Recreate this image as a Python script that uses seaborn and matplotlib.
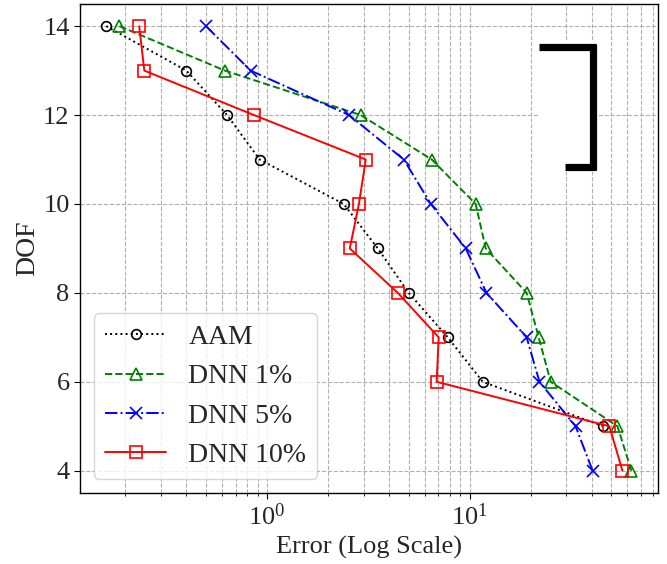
import pandas as pd
import matplotlib
matplotlib.use("Agg")
import matplotlib.pyplot as plt
from matplotlib.patches import Rectangle
import seaborn as sns

# DOF levels and error per method
dof = [14, 13, 12, 11, 10, 9, 8, 7, 6, 5, 4]
aam = [0.161, 0.40, 0.635, 0.92, 2.39, 3.52, 5.0, 7.8, 11.6, 45.7]
dnn1 = [0.187, 0.62, 2.90, 6.5, 10.7, 12.0, 19.1, 21.9, 25.1, 53.6, 62.8]
dnn5 = [0.50, 0.83, 2.54, 4.73, 6.43, 9.56, 12.1, 19.1, 22.1, 33.3, 40.4]
dnn10 = [0.234, 0.248, 0.863, 3.07, 2.84, 2.56, 4.42, 7.03, 6.87, 48.9, 56.7]

labels = ["AAM", "DNN 1%", "DNN 5%", "DNN 10%"]
series = [aam, dnn1, dnn5, dnn10]
colors = ["black", "green", "blue", "red"]
markers = ["o", "^", "x", "s"]
styles = [":", "--", "-.", "-"]
msizes = [7, 8, 9, 8]

sns.set_style("ticks")
plt.rcParams["font.family"] = ["Liberation Serif", "DejaVu Serif"]
plt.rcParams["mathtext.fontset"] = "stix"

fig = plt.figure(figsize=(6.67, 5.64), dpi=100)
ax = fig.add_axes([0.12, 0.126, 0.866, 0.867])

for lab, vals, c, m, ls, ms in zip(labels, series, colors, markers, styles, msizes):
    df = pd.DataFrame({"err": vals, "dof": dof[:len(vals)]})
    sns.lineplot(data=df, x="err", y="dof", ax=ax, sort=False, estimator=None,
                 color=c, marker=m, linestyle=ls, markersize=ms,
                 markerfacecolor="none", markeredgecolor=c, markeredgewidth=1.2,
                 linewidth=1.4, label=lab)

ax.set_xscale("log")
ax.set_yticks([4, 6, 8, 10, 12, 14])
ax.grid(True, which="both", axis="x", linestyle="--", color="#b0b0b0", linewidth=0.8)
ax.grid(True, which="major", axis="y", linestyle="--", color="#b0b0b0", linewidth=0.8)
ax.set_axisbelow(True)
for s in ax.spines.values():
    s.set_color("black")
    s.set_linewidth(1.0)
ax.tick_params(axis="both", which="major", labelsize=19, direction="out", length=4, color="black")
ax.tick_params(axis="x", which="minor", direction="out", length=2.5, color="black")

ax.set_xlabel("Error (Log Scale)", fontsize=19)
ax.set_ylabel("DOF", fontsize=20, labelpad=2)

leg = ax.legend(loc="lower left", fontsize=20, frameon=True, framealpha=0.8,
                borderaxespad=0.5, handlelength=2.2)
leg.get_frame().set_edgecolor("#cccccc")

# white patch with black bracket in the upper right
ax.add_patch(Rectangle((0.792, 0.656), 0.107, 0.27, transform=ax.transAxes,
                       facecolor="white", edgecolor="none", zorder=3))
bk = dict(transform=ax.transAxes, color="black", linewidth=5.2,
          solid_capstyle="butt", zorder=4)
ax.plot([0.795, 0.894], [0.911, 0.911], **bk)
ax.plot([0.888, 0.888], [0.918, 0.660], **bk)
ax.plot([0.839, 0.894], [0.667, 0.667], **bk)

fig.savefig("out.png", dpi=100)
